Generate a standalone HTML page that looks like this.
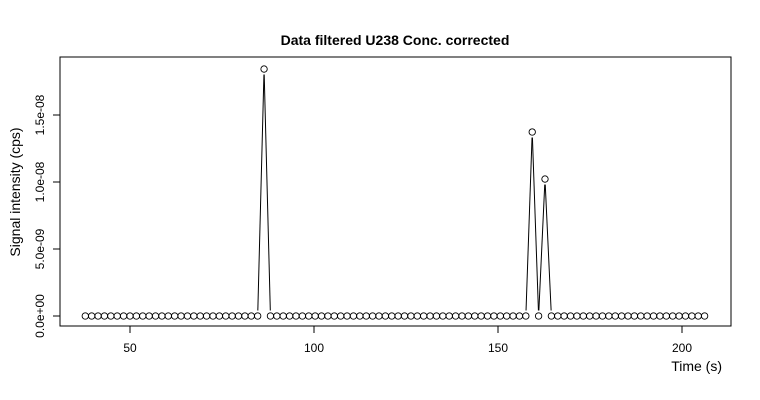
<!DOCTYPE html>
<html><head><meta charset="utf-8"><style>body{margin:0;background:#fff}svg{display:block}text{font-family:"Liberation Sans",sans-serif}</style></head>
<body>
<svg id="c" width="760" height="400">
<rect x="0" y="0" width="760" height="400" fill="#fff"/>
<text x="395" y="45" text-anchor="middle" font-size="14" font-weight="bold">Data filtered U238 Conc. corrected</text>
<rect x="60" y="57" width="671" height="269" fill="none" stroke="#000"/>
<text x="722" y="371" text-anchor="end" font-size="14">Time (s)</text>
<text transform="translate(20,192) rotate(-90)" text-anchor="middle" font-size="14">Signal intensity (cps)</text>
<g id="ax"></g><g id="marks"></g>
</svg>
<script>
const xTicks=[50,100,150,200];
const yTicks=[0,5e-9,1e-8,1.5e-8];
const yTickLabels=["0.0e+00","5.0e-09","1.0e-08","1.5e-08"];
const t0=37.85, dt=1.735, nPts=98;
const peakIdx=[28,70,72];
const peakVal=[1.843e-8,1.373e-8,1.022e-8];
const values=[];for(let i=0;i<nPts;i++)values.push(0);
peakIdx.forEach((k,j)=>values[k]=peakVal[j]);
const times=values.map((v,i)=>t0+i*dt);
const X=t=>130+(t-50)*3.68, Y=v=>316-v*1.34e10;
const NS="http://www.w3.org/2000/svg";
function mk(tag,at,parent){const e=document.createElementNS(NS,tag);for(const k in at)e.setAttribute(k,at[k]);parent.appendChild(e);return e;}
const ax=document.getElementById('ax'),mg=document.getElementById('marks');
mk('line',{x1:X(50),x2:X(200),y1:326,y2:326,stroke:'#000'},ax);
xTicks.forEach(t=>{const l=mk('line',{x1:X(t),x2:X(t),y1:326,y2:333,stroke:'#000'},ax);


const tx=mk('text',{x:X(t),y:352,'text-anchor':'middle','font-size':12},ax);tx.textContent=t;

});
mk('line',{x1:60,x2:60,y1:Y(0),y2:Y(1.5e-8),stroke:'#000'},ax);
yTicks.forEach((v,i)=>{const l=mk('line',{x1:53,x2:60,y1:Y(v),y2:Y(v),stroke:'#000'},ax);


const tx=mk('text',{transform:`translate(44,${Y(v)}) rotate(-90)`,'text-anchor':'middle','font-size':12},ax);tx.textContent=tx.textContent=yTickLabels[i];

});
const r=3.2, gap=5.5;
for(let i=0;i<nPts-1;i++){const x1=X(times[i]),y1=Y(values[i]),x2=X(times[i+1]),y2=Y(values[i+1]);
const dx=x2-x1,dy=y2-y1,d=Math.hypot(dx,dy);if(d<=2*gap)continue;const ux=dx/d,uy=dy/d;
const s=mk('line',{x1:x1+ux*gap,y1:y1+uy*gap,x2:x2-ux*gap,y2:y2-uy*gap,stroke:'#000','stroke-width':1},mg);

}
values.forEach((v,i)=>{const c=mk('circle',{cx:X(times[i]),cy:Y(v),r:r,fill:'none',stroke:'#000','stroke-width':0.9},mg);

});
</script>
</body></html>
